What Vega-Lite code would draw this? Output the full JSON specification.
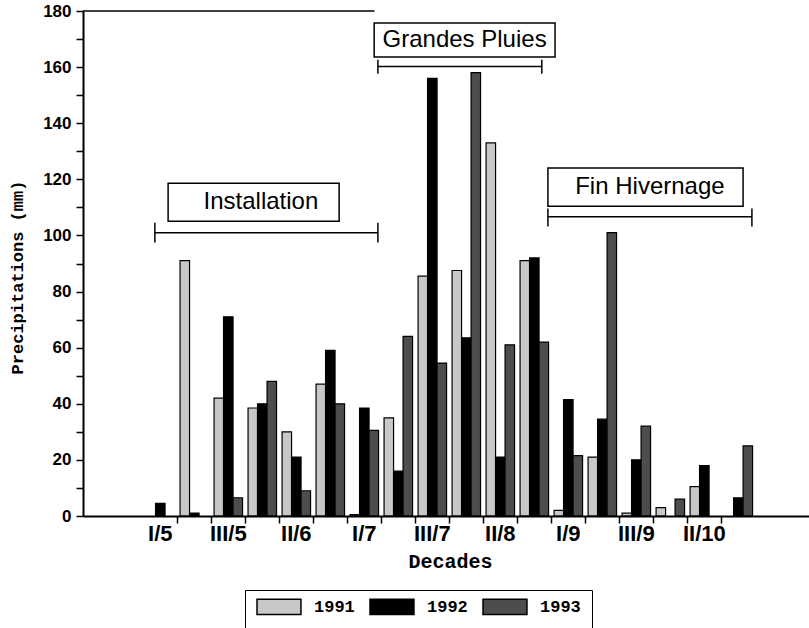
{
  "$schema": "https://vega.github.io/schema/vega-lite/v6.json",
  "autosize": {"type": "none"},
  "width": 726,
  "height": 505,
  "padding": {"left": 83, "top": 11, "right": 0, "bottom": 112},
  "background": "white",
  "config": {"view": {"stroke": null}},
  "datasets": {
    "rain": [
      {"decade": "I/5", "year": "1992", "mm": 4.5},
      {"decade": "II/5", "year": "1991", "mm": 91},
      {"decade": "II/5", "year": "1992", "mm": 1},
      {"decade": "III/5", "year": "1991", "mm": 42},
      {"decade": "III/5", "year": "1992", "mm": 71},
      {"decade": "III/5", "year": "1993", "mm": 6.5},
      {"decade": "I/6", "year": "1991", "mm": 38.5},
      {"decade": "I/6", "year": "1992", "mm": 40},
      {"decade": "I/6", "year": "1993", "mm": 48},
      {"decade": "II/6", "year": "1991", "mm": 30},
      {"decade": "II/6", "year": "1992", "mm": 21},
      {"decade": "II/6", "year": "1993", "mm": 9},
      {"decade": "III/6", "year": "1991", "mm": 47},
      {"decade": "III/6", "year": "1992", "mm": 59},
      {"decade": "III/6", "year": "1993", "mm": 40},
      {"decade": "I/7", "year": "1991", "mm": 0.5},
      {"decade": "I/7", "year": "1992", "mm": 38.5},
      {"decade": "I/7", "year": "1993", "mm": 30.5},
      {"decade": "II/7", "year": "1991", "mm": 35},
      {"decade": "II/7", "year": "1992", "mm": 16},
      {"decade": "II/7", "year": "1993", "mm": 64},
      {"decade": "III/7", "year": "1991", "mm": 85.5},
      {"decade": "III/7", "year": "1992", "mm": 156},
      {"decade": "III/7", "year": "1993", "mm": 54.5},
      {"decade": "I/8", "year": "1991", "mm": 87.5},
      {"decade": "I/8", "year": "1992", "mm": 63.5},
      {"decade": "I/8", "year": "1993", "mm": 158},
      {"decade": "II/8", "year": "1991", "mm": 133},
      {"decade": "II/8", "year": "1992", "mm": 21},
      {"decade": "II/8", "year": "1993", "mm": 61},
      {"decade": "III/8", "year": "1991", "mm": 91},
      {"decade": "III/8", "year": "1992", "mm": 92},
      {"decade": "III/8", "year": "1993", "mm": 62},
      {"decade": "I/9", "year": "1991", "mm": 2},
      {"decade": "I/9", "year": "1992", "mm": 41.5},
      {"decade": "I/9", "year": "1993", "mm": 21.5},
      {"decade": "II/9", "year": "1991", "mm": 21},
      {"decade": "II/9", "year": "1992", "mm": 34.5},
      {"decade": "II/9", "year": "1993", "mm": 101},
      {"decade": "III/9", "year": "1991", "mm": 1},
      {"decade": "III/9", "year": "1992", "mm": 20},
      {"decade": "III/9", "year": "1993", "mm": 32},
      {"decade": "I/10", "year": "1991", "mm": 3},
      {"decade": "I/10", "year": "1993", "mm": 6},
      {"decade": "II/10", "year": "1991", "mm": 10.5},
      {"decade": "II/10", "year": "1992", "mm": 18},
      {"decade": "III/10", "year": "1992", "mm": 6.5},
      {"decade": "III/10", "year": "1993", "mm": 25}
    ],
    "phases": [
      {"phase": "Installation", "from": 0.34, "to": 6.9, "level": 101, "cap_lo": 97.5, "cap_hi": 104.5, "box_from": 0.73, "box_to": 5.76, "box_lo": 105.1, "box_hi": 118.6, "label_x": 3.46, "label_y": 112},
      {"phase": "Grandes Pluies", "from": 6.9, "to": 11.72, "level": 160.2, "cap_lo": 157.6, "cap_hi": 162.6, "box_from": 6.79, "box_to": 12.11, "box_lo": 163.6, "box_hi": 175.7, "label_x": 9.45, "label_y": 169.6},
      {"phase": "Fin Hivernage", "from": 11.9, "to": 17.9, "level": 106.7, "cap_lo": 103.2, "cap_hi": 109.6, "box_from": 11.9, "box_to": 17.64, "box_lo": 110.4, "box_hi": 124, "label_x": 14.9, "label_y": 117.4}
    ],
    "frame": [
      {"edge_from": -1.7735, "edge_to": 6.8, "top": 180}
    ]
  },
  "layer": [
    {
      "data": {"name": "rain"},
      "mark": {"type": "bar", "stroke": "black", "strokeWidth": 1.2},
      "encoding": {
        "x": {
          "field": "decade",
          "type": "nominal",
          "sort": ["III/4", "I/5", "II/5", "III/5", "I/6", "II/6", "III/6", "I/7", "II/7", "III/7", "I/8", "II/8", "III/8", "I/9", "II/9", "III/9", "I/10", "II/10", "III/10", "I/11"],
          "scale": {
            "domain": ["III/4", "I/5", "II/5", "III/5", "I/6", "II/6", "III/6", "I/7", "II/7", "III/7", "I/8", "II/8", "III/8", "I/9", "II/9", "III/9", "I/10", "II/10", "III/10", "I/11"],
            "paddingInner": 0,
            "paddingOuter": 0.676,
            "align": 0.572
          },
          "axis": {
            "title": "Decades",
            "titleFont": "Liberation Mono",
            "titleFontWeight": "bold",
            "titleFontSize": 20,
            "titleColor": "black",
            "titleX": 367,
            "titleY": 51,
            "titleAlign": "center",
            "titleBaseline": "alphabetic",
            "values": ["I/5", "II/5", "III/5", "I/6", "II/6", "III/6", "I/7", "II/7", "III/7", "I/8", "II/8", "III/8", "I/9", "II/9", "III/9", "I/10", "II/10"],
            "labelExpr": "indexof(['I/5','III/5','II/6','I/7','III/7','II/8','I/9','III/9','II/10'], datum.value) >= 0 ? datum.value : ''",
            "labelFont": "Liberation Sans Narrow, Liberation Sans",
            "labelFontWeight": "bold",
            "labelFontSize": 22,
            "labelColor": "black",
            "labelAngle": 0,
            "labelPadding": 0,
            "bandPosition": 1,
            "tickColor": "black",
            "tickWidth": 1.5,
            "tickSize": 7,
            "domainColor": "black",
            "domainWidth": 2,
            "grid": false,
            "zindex": 1
          }
        },
        "xOffset": {
          "field": "year",
          "type": "nominal",
          "scale": {"domain": ["1991", "1992", "1993"], "paddingInner": 0, "paddingOuter": 0.29}
        },
        "y": {
          "field": "mm",
          "type": "quantitative",
          "scale": {"domain": [0, 180], "nice": false, "zero": true},
          "axis": {
            "title": "Precipitations (mm)",
            "titleFont": "Liberation Mono",
            "titleFontWeight": "bold",
            "titleFontSize": 17,
            "titleColor": "black",
            "titleX": -66,
            "titleY": 266,
            "titleAngle": -90,
            "titleAlign": "center",
            "titleBaseline": "middle",
            "values": [0, 10, 20, 30, 40, 50, 60, 70, 80, 90, 100, 110, 120, 130, 140, 150, 160, 170, 180],
            "labelExpr": "datum.value % 20 === 0 ? datum.label : ''",
            "labelFont": "Liberation Sans",
            "labelFontWeight": "bold",
            "labelFontSize": 17,
            "labelColor": "black",
            "labelPadding": 5,
            "tickColor": "black",
            "tickWidth": 1.5,
            "tickSize": 7,
            "domainColor": "black",
            "domainWidth": 2,
            "grid": false,
            "zindex": 1
          }
        },
        "color": {
          "field": "year",
          "type": "nominal",
          "scale": {"domain": ["1991", "1992", "1993"], "range": ["#c8c8c8", "#000000", "#4d4d4d"]},
          "legend": {
            "title": null,
            "orient": "none",
            "legendX": 162,
            "legendY": 579,
            "direction": "horizontal",
            "symbolType": "M-1,-1.23H2.14V-0.13H-1Z",
            "symbolSize": 784,
            "symbolStrokeColor": "black",
            "symbolStrokeWidth": 1.5,
            "labelFont": "Liberation Mono",
            "labelFontWeight": "bold",
            "labelFontSize": 17,
            "labelColor": "black",
            "labelBaseline": "bottom",
            "labelOffset": 28,
            "labelExpr": "datum.label === '1993' ? datum.label + '  ' : datum.label",
            "columnPadding": 12,
            "padding": 11,
            "strokeColor": "black",
            "fillColor": "white"
          }
        }
      }
    },
    {
      "data": {"name": "frame"},
      "mark": {"type": "rule", "stroke": "black", "strokeWidth": 1.5},
      "encoding": {
        "x": {"field": "edge_from", "type": "quantitative", "scale": {"domain": [-1.7735, 19.579], "nice": false, "zero": false}, "axis": null},
        "x2": {"field": "edge_to"},
        "y": {"field": "top", "type": "quantitative", "scale": {"domain": [0, 180], "nice": false, "zero": false}, "axis": null}
      }
    },
    {
      "data": {"name": "phases"},
      "layer": [
        {
          "mark": {"type": "rule", "stroke": "black", "strokeWidth": 1.5},
          "encoding": {
            "x": {"field": "from", "type": "quantitative", "scale": {"domain": [-1.7735, 19.579], "nice": false, "zero": false}, "axis": null},
            "x2": {"field": "to"},
            "y": {"field": "level", "type": "quantitative", "scale": {"domain": [0, 180], "nice": false, "zero": false}, "axis": null}
          }
        },
        {
          "mark": {"type": "rule", "stroke": "black", "strokeWidth": 1.5},
          "encoding": {
            "x": {"field": "from", "type": "quantitative", "scale": {"domain": [-1.7735, 19.579], "nice": false, "zero": false}, "axis": null},
            "y": {"field": "cap_lo", "type": "quantitative", "scale": {"domain": [0, 180], "nice": false, "zero": false}, "axis": null},
            "y2": {"field": "cap_hi"}
          }
        },
        {
          "mark": {"type": "rule", "stroke": "black", "strokeWidth": 1.5},
          "encoding": {
            "x": {"field": "to", "type": "quantitative", "scale": {"domain": [-1.7735, 19.579], "nice": false, "zero": false}, "axis": null},
            "y": {"field": "cap_lo", "type": "quantitative", "scale": {"domain": [0, 180], "nice": false, "zero": false}, "axis": null},
            "y2": {"field": "cap_hi"}
          }
        },
        {
          "mark": {"type": "rect", "fill": "white", "stroke": "black", "strokeWidth": 1.5},
          "encoding": {
            "x": {"field": "box_from", "type": "quantitative", "scale": {"domain": [-1.7735, 19.579], "nice": false, "zero": false}, "axis": null},
            "x2": {"field": "box_to"},
            "y": {"field": "box_lo", "type": "quantitative", "scale": {"domain": [0, 180], "nice": false, "zero": false}, "axis": null},
            "y2": {"field": "box_hi"}
          }
        },
        {
          "mark": {"type": "text", "font": "Liberation Sans", "fontSize": 24, "color": "black", "align": "center", "baseline": "middle"},
          "encoding": {
            "x": {"field": "label_x", "type": "quantitative", "scale": {"domain": [-1.7735, 19.579], "nice": false, "zero": false}, "axis": null},
            "y": {"field": "label_y", "type": "quantitative", "scale": {"domain": [0, 180], "nice": false, "zero": false}, "axis": null},
            "text": {"field": "phase"}
          }
        }
      ]
    }
  ],
  "resolve": {
    "scale": {"x": "independent", "y": "independent"},
    "axis": {"x": "independent", "y": "independent"}
  }
}
